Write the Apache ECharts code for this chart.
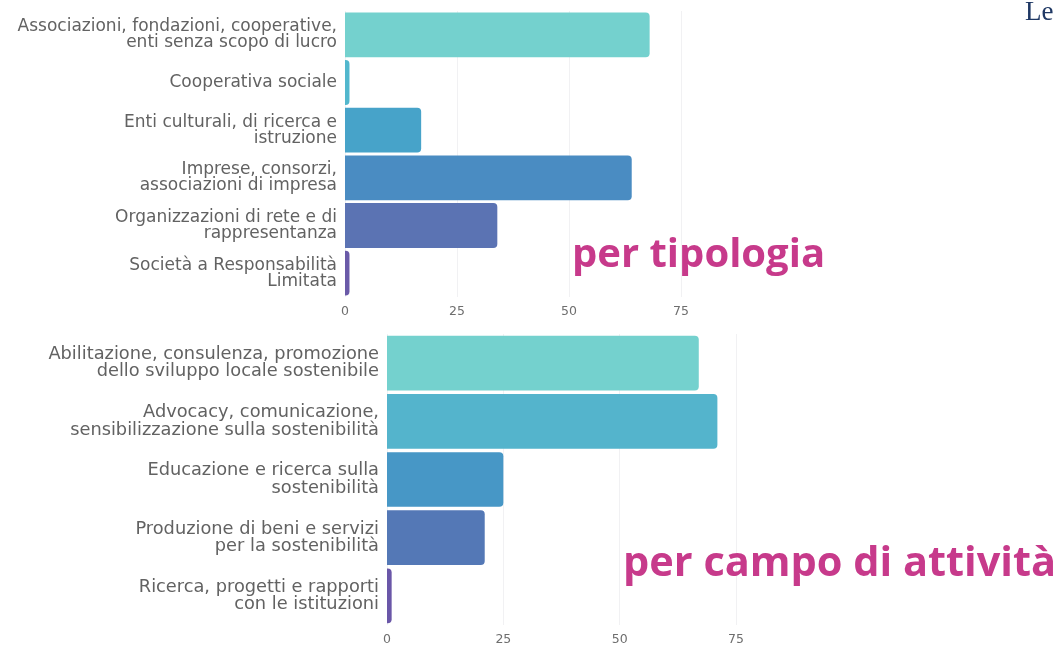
<!DOCTYPE html>
<html lang="it">
<head>
  <meta charset="UTF-8">
  <title>per tipologia / per campo di attività</title>
  <script src="https://cdn.jsdelivr.net/npm/echarts@6/dist/echarts.min.js"></script>
  <style>
    html, body { margin: 0; padding: 0; background: #fff; }
    #chart { width: 1060px; height: 646px; }
  </style>
</head>
<body>
  <div id="chart"></div>
<script>
  // per tipologia
  const tipoCategories = [
    "Associazioni, fondazioni, cooperative,\nenti senza scopo di lucro",
    "Cooperativa sociale",
    "Enti culturali, di ricerca e\nistruzione",
    "Imprese, consorzi,\nassociazioni di impresa",
    "Organizzazioni di rete e di\nrappresentanza",
    "Società a Responsabilità\nLimitata"
  ];
  const tipoValues = [68, 1, 17, 64, 34, 1];
  const tipoColors = ["#74d1ce", "#52b7cd", "#47a3c9", "#4a8cc2", "#5b73b3", "#6a5aa8"];

  // per campo di attività
  const campoCategories = [
    "Abilitazione, consulenza, promozione\ndello sviluppo locale sostenibile",
    "Advocacy, comunicazione,\nsensibilizzazione sulla sostenibilità",
    "Educazione e ricerca sulla\nsostenibilità",
    "Produzione di beni e servizi\nper la sostenibilità",
    "Ricerca, progetti e rapporti\ncon le istituzioni"
  ];
  const campoValues = [67, 71, 25, 21, 1];
  const campoColors = ["#74d1ce", "#54b4cc", "#4797c6", "#5478b6", "#6a57a8"];

  const labelFont = "'DejaVu Sans', sans-serif";
  const titleFont = "'Open Sans', sans-serif";

  function bars(values, colors) {
    return values.map((v, i) => ({
      value: v,
      itemStyle: { color: colors[i], borderRadius: [0, 4, 4, 0] }
    }));
  }

  const chart = echarts.init(document.getElementById("chart"));
  chart.setOption({
    animation: false,
    title: [
      {
        text: "per tipologia", left: 567, top: 231,
        textStyle: { fontFamily: titleFont, fontWeight: "bold", fontSize: 40, color: "#c73a8b" }
      },
      {
        text: "per campo di attività", left: 618, top: 538,
        textStyle: { fontFamily: titleFont, fontWeight: "bold", fontSize: 41.5, color: "#c73a8b" }
      },
      {
        text: "Le", left: 1020, top: -6,
        textStyle: { fontFamily: "'Liberation Serif', serif", fontWeight: "normal", fontSize: 27, color: "#1f3864" }
      }
    ],
    grid: [
      { left: 345, width: 336, top: 11, height: 286 },
      { left: 387, width: 349, top: 334, height: 294 }
    ],
    xAxis: [0, 1].map((g) => ({
      type: "value", gridIndex: g, min: 0, max: 75, interval: 25,
      axisLine: { show: false }, axisTick: { show: false },
      splitLine: { lineStyle: { color: "#f1f1f3" } },
      axisLabel: { color: "#6e6e6e", fontSize: 12.5, fontFamily: labelFont, margin: 8 }
    })),
    yAxis: [
      { cats: tipoCategories, size: 17, lh: 16 },
      { cats: campoCategories, size: 17.8, lh: 17.5 }
    ].map((a, g) => ({
      type: "category", gridIndex: g, inverse: true, data: a.cats,
      axisLine: { show: false }, axisTick: { show: false },
      axisLabel: { color: "#626262", fontSize: a.size, lineHeight: a.lh, fontFamily: labelFont, margin: 8, align: "right" }
    })),
    series: [
      {
        type: "bar", xAxisIndex: 0, yAxisIndex: 0, barCategoryGap: "6%",
        data: bars(tipoValues, tipoColors)
      },
      {
        type: "bar", xAxisIndex: 1, yAxisIndex: 1, barCategoryGap: "6%",
        data: bars(campoValues, campoColors)
      }
    ]
  });
</script>
</body>
</html>
